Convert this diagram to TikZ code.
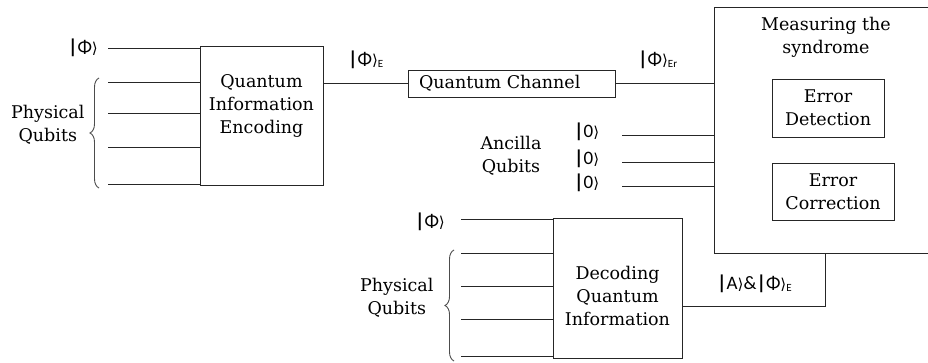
\documentclass[tikz,border=0pt]{standalone}
\usepackage{fontspec}
\setmainfont{DejaVu Serif}
\newfontfamily\ketfont{Carlito}
\newfontfamily\djs{DejaVu Sans}
\usetikzlibrary{decorations.pathreplacing}
\tikzset{
  wire/.style={draw=black!85, line width=0.9pt},
  blk/.style={draw=black!85, line width=0.9pt, fill=white},
  lbl/.style={font=\fontsize{17.5}{23}\selectfont, align=center, text=black},
  ket/.style={font=\ketfont\fontsize{19}{20}\selectfont, text=black, inner sep=0pt},
  brc/.style={draw=black!70, line width=0.9pt, decorate, decoration={brace, amplitude=9pt}}
}
\newcommand{\kt}[1]{{\fontsize{20}{20}\selectfont\textbf{|}}#1{\djs\fontsize{15}{16}\selectfont\raisebox{0.5pt}{⟩}}}
\newcommand{\ksub}[1]{\raisebox{-2pt}{\fontsize{11}{12}\selectfont #1}}
\begin{document}
\begin{tikzpicture}[x=1pt,y=-1pt]
\useasboundingbox (0,0) rectangle (928,363);
% encoding block
\draw[blk] (200,46) rectangle (323,185);
\node[lbl] (enc) at (261.5,106) {Quantum\\Information\\Encoding};
\foreach \y/\n in {48/a0,82/a1,113/a2,147/a3,184/a4}{
  \coordinate (\n s) at (108,\y);
  \coordinate (\n e) at (200,\y);
  \draw[wire] (\n s) -- (\n e);
}
\node[ket, anchor=east] (kphi1) at (98,48) {\kt{Φ}};
\draw[brc] (99,188) -- (99,78);
\node[lbl, anchor=east] (phys1) at (88,125) {Physical\\Qubits};
% channel
\node[blk, minimum width=207pt, minimum height=27pt, inner sep=0pt] (chan) at (511.5,83.5) {};
\node[lbl, anchor=west] (chant) at ([xshift=8pt]chan.west) {Quantum Channel};
\coordinate (encE) at (323,83);
\coordinate (measW) at (714,83);
\draw[wire] (encE) -- (chan.west |- encE);
\draw[wire] (chan.east |- encE) -- (measW);
\node[ket, anchor=west] (kE) at (348,60) {\kt{Φ}\ksub{E}};
\node[ket, anchor=west] (kEr) at (638,60) {\kt{Φ}\ksub{Er}};
% measuring box
\draw[blk] (714,7) rectangle (935,253);
\node[lbl] (meas) at (826,37) {Measuring the\\syndrome};
\node[blk, minimum width=112pt, minimum height=58pt, lbl] (det) at (828,108) {Error\\Detection};
\node[blk, minimum width=122pt, minimum height=57pt, lbl] (cor) at (833,191.5) {Error\\Correction};
% ancilla
\foreach \y/\n in {135/b1,162/b2,186/b3}{
  \coordinate (\n s) at (622,\y);
  \coordinate (\n e) at (714,\y);
  \draw[wire] (\n s) -- (\n e);
  \node[ket, anchor=west] at (574,\y-3) {\kt{0}};
}
\node[lbl] (anc) at (511,156) {Ancilla\\Qubits};
% decoding block
\draw[blk] (553,218) rectangle (682,358);
\node[lbl] (dec) at (617.5,296) {Decoding\\Quantum\\Information};
\foreach \y/\n in {219/c0,253/c1,286/c2,319/c3,356/c4}{
  \coordinate (\n s) at (461,\y);
  \coordinate (\n e) at (553,\y);
  \draw[wire] (\n s) -- (\n e);
}
\node[ket, anchor=east] (kphi2) at (445,222) {\kt{Φ}};
\draw[brc] (454,361) -- (454,250);
\node[lbl, anchor=east] (phys2) at (437,298) {Physical\\Qubits};
% output of decoding
\coordinate (decE) at (682,306);
\coordinate (corner) at (825,306);
\coordinate (measS) at (825,253);
\draw[wire] (decE) -- (corner) -- (measS);
\node[ket, anchor=west] (kA) at (717,284) {\kt{A}\&\kt{Φ}\ksub{E}};
\end{tikzpicture}
\end{document}
